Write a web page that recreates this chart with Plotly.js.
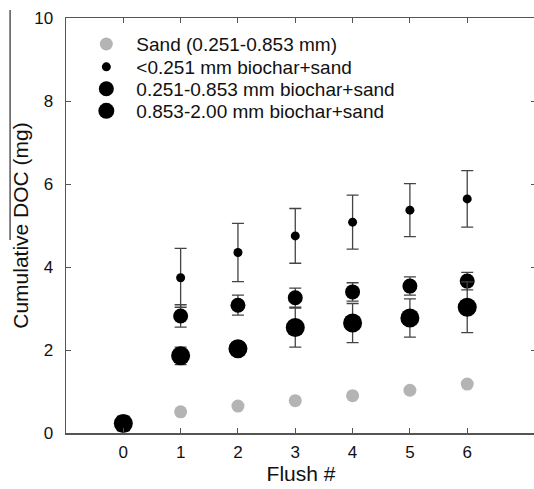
<!DOCTYPE html>
<html>
<head>
<meta charset="utf-8">
<script src="https://cdn.plot.ly/plotly-3.0.1.min.js"></script>
<style>
html, body { margin: 0; padding: 0; overflow: hidden; background: #fff; }
#chart { width: 536px; height: 489px; }
</style>
</head>
<body>
<div id="chart"></div>
<script>
// Data
const flush = [0, 1, 2, 3, 4, 5, 6];
const seriesNames = [
  "Sand (0.251-0.853 mm)",
  "<0.251 mm biochar+sand",
  "0.251-0.853 mm biochar+sand",
  "0.853-2.00 mm biochar+sand"
];
const sandDOC   = [0.23, 0.51, 0.65, 0.78, 0.90, 1.03, 1.18];
const fineDOC   = [0.23, 3.74, 4.35, 4.75, 5.08, 5.37, 5.64];
const fineErr   = [0.17, 0.71, 0.70, 0.66, 0.65, 0.64, 0.68];
const mediumDOC = [0.23, 2.82, 3.08, 3.26, 3.40, 3.54, 3.66];
const mediumErr = [0.17, 0.27, 0.24, 0.23, 0.22, 0.22, 0.21];
const coarseDOC = [0.23, 1.86, 2.03, 2.54, 2.65, 2.77, 3.03];
const coarseErr = [0.17, 0.21, 0.12, 0.47, 0.47, 0.46, 0.61];
const xTicks = [0, 1, 2, 3, 4, 5, 6];
const yTicks = [0, 2, 4, 6, 8, 10];

const errStyle = (arr) => ({type: 'data', array: arr, visible: true, color: '#444', thickness: 1.3, width: 6});

const traces = [
  {x: flush, y: sandDOC, name: seriesNames[0], mode: 'markers', type: 'scatter',
   marker: {color: '#b4b4b4', size: 13}, legend: 'legend'},
  {x: flush, y: fineDOC, name: seriesNames[1], mode: 'markers', type: 'scatter',
   marker: {color: '#000', size: 9}, error_y: errStyle(fineErr), legend: 'legend2'},
  {x: flush, y: mediumDOC, name: seriesNames[2], mode: 'markers', type: 'scatter',
   marker: {color: '#000', size: 15}, error_y: errStyle(mediumErr), legend: 'legend3'},
  {x: flush, y: coarseDOC, name: seriesNames[3], mode: 'markers', type: 'scatter',
   marker: {color: '#000', size: 19}, error_y: errStyle(coarseErr), legend: 'legend4'}
];

const fontFam = 'Arial, "Liberation Sans", sans-serif';
const legFont = {family: fontFam, size: 19, color: '#111'};
const mkLegend = (y) => ({x: 0.022, xanchor: 'left', y: y, yanchor: 'middle', itemwidth: 50,
  bgcolor: 'rgba(0,0,0,0)', borderwidth: 0, font: legFont});

const layout = {
  width: 536, height: 489,
  margin: {l: 66, r: 0, t: 18, b: 56},
  paper_bgcolor: '#fff', plot_bgcolor: '#fff',
  font: {family: fontFam, color: '#111'},
  showlegend: true,
  legend: mkLegend(0.937),
  legend2: mkLegend(0.882),
  legend3: mkLegend(0.829),
  legend4: mkLegend(0.776),
  xaxis: {
    range: [-1, 7.2], tickvals: xTicks, ticktext: xTicks.map(String),
    showgrid: false, zeroline: false, showline: true, linecolor: '#555', linewidth: 1.5,
    mirror: 'ticks', ticks: 'inside', ticklen: 5, tickcolor: '#555', tickwidth: 1,
    tickfont: {family: fontFam, size: 17, color: '#111'}, ticklabelstandoff: 3,
    title: {text: 'Flush #', font: {family: fontFam, size: 21, color: '#111'}, standoff: 0}
  },
  yaxis: {
    range: [0, 10], tickvals: yTicks, ticktext: yTicks.map(String),
    showgrid: false, zeroline: false, showline: true, linecolor: '#555', linewidth: 1.5,
    mirror: 'ticks', ticks: 'inside', ticklen: 5, tickcolor: '#555', tickwidth: 1,
    tickfont: {family: fontFam, size: 17, color: '#111'}, ticklabelstandoff: 8,
    title: {text: 'Cumulative DOC (mg)', font: {family: fontFam, size: 21, color: '#111'}, standoff: 0}
  },
  shapes: [
    {type: 'line', xref: 'paper', yref: 'paper', x0: -0.119, x1: -0.119,
     y0: 1 - (10 - 18) / 415, y1: 1 - (240 - 18) / 415, line: {color: '#000', width: 1}}
  ]
};

Plotly.newPlot('chart', traces, layout, {displayModeBar: false, staticPlot: true});
</script>
</body>
</html>
